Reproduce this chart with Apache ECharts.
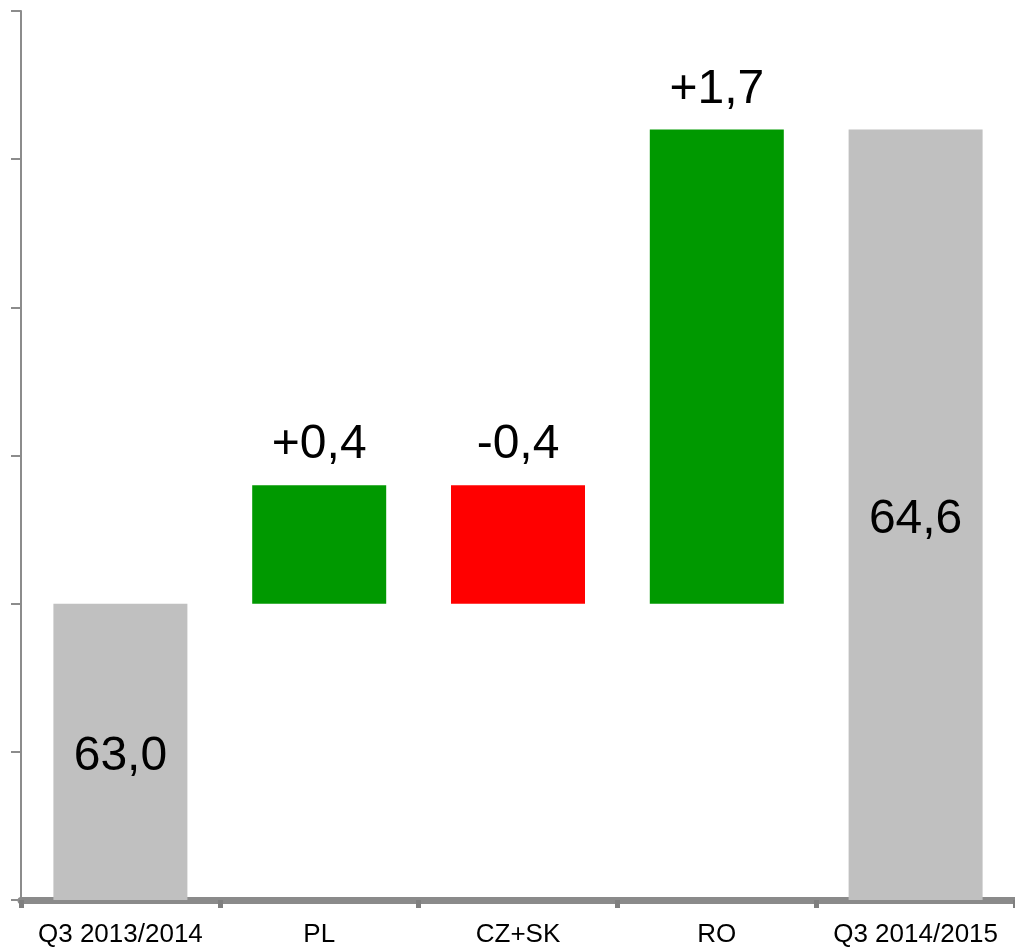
<!DOCTYPE html>
<html>
<head>
<meta charset="utf-8">
<script src="https://cdn.jsdelivr.net/npm/echarts@6/dist/echarts.min.js"></script>
<style>
html,body{margin:0;padding:0;background:#fff;}
#chart{width:1015px;height:948px;}
</style>
</head>
<body>
<div id="chart"></div>
<script>
// 瀑布图数据
const categories = ['Q3 2013/2014', 'PL', 'CZ+SK', 'RO', 'Q3 2014/2015'];
const barLow = [62, 63.0, 63.0, 63.0, 62];
const barHigh = [63.0, 63.4, 63.4, 64.6, 64.6];
const valueLabels = ['63,0', '+0,4', '-0,4', '+1,7', '64,6'];
const barKinds = ['total', 'up', 'down', 'up', 'total'];

const colors = { total: '#c0c0c0', up: '#009900', down: '#ff0000' };
const font = "'Liberation Sans', Arial, sans-serif";

let myChart = echarts.init(document.getElementById('chart'));

let visible = categories.map((c, i) => {
  let kind = barKinds[i];
  return {
    value: +(barHigh[i] - barLow[i]).toFixed(2),
    itemStyle: { color: colors[kind] },
    label: {
      show: true,
      position: kind === 'total' ? 'inside' : 'top',
      distance: 16,
      offset: kind === 'total' ? [0, 5] : [0, 0],
      formatter: valueLabels[i],
      fontSize: 48,
      color: '#000',
      fontFamily: font
    }
  };
});

myChart.setOption({
  backgroundColor: '#fff',
  animation: false,
  grid: { left: 21, right: -3, top: 11, bottom: 43, containLabel: false },
  xAxis: {
    type: 'category',
    data: categories,
    axisLine: { lineStyle: { color: '#8a8a8a', width: 7 } },
    axisTick: { show: true, length: 8, lineStyle: { color: '#7f7f7f', width: 5 } },
    axisLabel: { color: '#000', fontSize: 26, fontFamily: font, margin: 22, interval: 0 },
    splitLine: { show: false }
  },
  yAxis: {
    type: 'value',
    min: 62,
    max: 65,
    interval: 0.5,
    axisLine: { show: true, lineStyle: { color: '#8c8c8c', width: 2 } },
    axisTick: { show: true, length: 10, lineStyle: { color: '#8c8c8c', width: 2 } },
    axisLabel: { show: false },
    splitLine: { show: false }
  },
  series: [
    {
      name: 'base',
      type: 'bar',
      stack: 'wf',
      barWidth: 134,
      itemStyle: { color: 'transparent' },
      emphasis: { disabled: true },
      data: barLow
    },
    {
      name: 'value',
      type: 'bar',
      stack: 'wf',
      barWidth: 134,
      data: visible
    }
  ]
});
</script>
</body>
</html>
